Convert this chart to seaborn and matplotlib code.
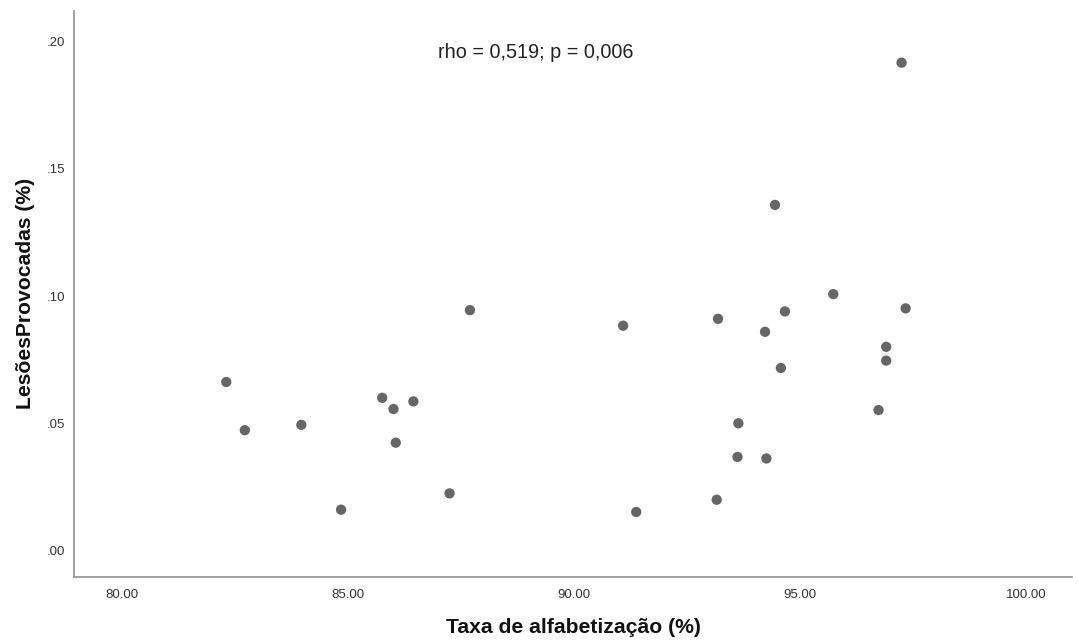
import matplotlib
matplotlib.use("Agg")
import matplotlib.pyplot as plt
import matplotlib.ticker as mticker
import seaborn as sns
import pandas as pd

# values
taxa_alfabetizacao = [82.31, 82.72, 83.97, 84.85, 85.76, 86.01, 86.45, 86.06, 87.25, 87.70,
                      91.09, 91.38, 93.19, 93.16, 93.64, 93.62, 94.23, 94.26, 94.45, 94.58,
                      94.67, 95.74, 96.74, 96.91, 96.91, 97.25, 97.34]
lesoes_provocadas = [0.0663, 0.0474, 0.0495, 0.0162, 0.0601, 0.0557, 0.0587, 0.0425, 0.0226, 0.0945,
                     0.0884, 0.0153, 0.0911, 0.0201, 0.0501, 0.0369, 0.0860, 0.0363, 0.1358, 0.0718,
                     0.0940, 0.1008, 0.0553, 0.0801, 0.0747, 0.1916, 0.0952]

x_ticks = [80, 85, 90, 95, 100]
y_ticks = [0.00, 0.05, 0.10, 0.15, 0.20]
annotation = "rho = 0,519; p = 0,006"

df = pd.DataFrame({"taxa": taxa_alfabetizacao, "lesoes": lesoes_provocadas})

sns.set_style("white")
plt.rcParams['font.family'] = ['Liberation Sans', 'DejaVu Sans']

fig = plt.figure(figsize=(10.78, 6.42), dpi=100)
ax = fig.add_axes([0.0686, 0.1017, 0.9258, 0.8812])

sns.scatterplot(data=df, x="taxa", y="lesoes", ax=ax, color="#666666",
                s=55, edgecolor="none", linewidth=0)

ax.set_xlim(78.94, 101.02)
ax.set_ylim(-0.0101, 0.2119)
ax.set_xticks(x_ticks)
ax.set_yticks(y_ticks)
ax.xaxis.set_major_formatter(mticker.FuncFormatter(lambda v, p: f"{v:.2f}"))
ax.yaxis.set_major_formatter(mticker.FuncFormatter(lambda v, p: f"{v:.2f}".lstrip("0")))
ax.tick_params(axis="both", length=0, labelsize=9.5, labelcolor="#333333")
ax.tick_params(axis="x", pad=9)
ax.tick_params(axis="y", pad=6)

for side in ["top", "right"]:
    ax.spines[side].set_visible(False)
for side in ["left", "bottom"]:
    ax.spines[side].set_color("#999999")
    ax.spines[side].set_linewidth(1.3)

ax.set_xlabel("Taxa de alfabetização (%)", fontsize=15.2, fontweight="bold", color="#111111", labelpad=12)
ax.set_ylabel("LesõesProvocadas (%)", fontsize=15.2, fontweight="bold", color="#111111", labelpad=9)

ax.text(0.463, 0.926, annotation, transform=ax.transAxes, ha="center", va="center",
        fontsize=14.3, color="#222222")

fig.savefig("out.png", dpi=100)
